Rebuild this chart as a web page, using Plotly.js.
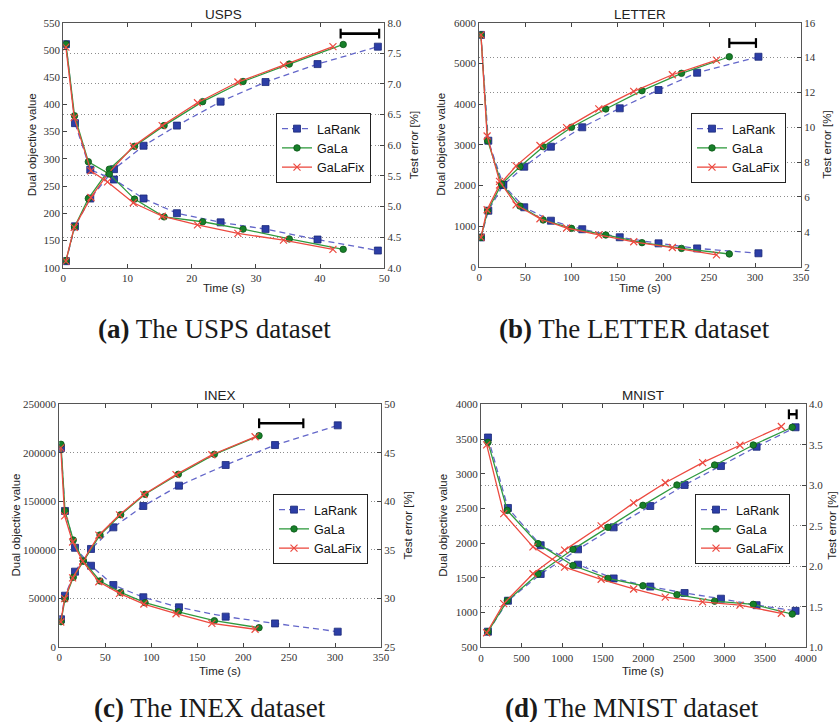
<!DOCTYPE html>
<html><head><meta charset="utf-8">
<script src="https://cdn.plot.ly/plotly-3.0.1.min.js"></script>
<style>html,body{margin:0;padding:0;background:#fff}#chart{width:839px;height:722px}</style>
</head><body><div id="chart"></div>
<script>
// ---------------- DATA ----------------
const seriesNames = ['LaRank', 'GaLa', 'GaLaFix'];
const panelTitles = ['USPS', 'LETTER', 'INEX', 'MNIST'];
const captionLetters = ['(a)', '(b)', '(c)', '(d)'];
const captionTexts = ['The USPS dataset', 'The LETTER dataset', 'The INEX dataset', 'The MNIST dataset'];

// USPS
const uspsLaRankT   = [0.42, 1.82, 4.2, 7.9, 12.5, 17.7, 24.5, 31.5, 39.6, 49.0];
const uspsLaRankDual= [112, 176, 227, 281, 324, 361, 405, 441, 474, 506];
const uspsLaRankErr = [7.65, 6.36, 5.60, 5.44, 5.13, 4.89, 4.74, 4.63, 4.46, 4.28];
const uspsGaLaT     = [0.42, 1.75, 3.9, 7.17, 11.1, 15.7, 21.7, 28.0, 35.2, 43.6];
const uspsGaLaDual  = [113, 175, 227, 281, 323, 361, 405, 442, 474, 510];
const uspsGaLaErr   = [7.65, 6.48, 5.73, 5.53, 5.12, 4.83, 4.75, 4.63, 4.47, 4.30];
const uspsFixT      = [0.4, 1.7, 4.3, 6.9, 10.9, 15.4, 20.9, 27.2, 34.3, 42.0];
const uspsFixDual   = [112, 174, 229, 272, 323, 361, 403, 441, 472, 506];
const uspsFixErr    = [7.60, 6.45, 5.58, 5.40, 5.06, 4.84, 4.70, 4.56, 4.45, 4.30];
const uspsBarT      = [43.2, 49.2];
const uspsBarY      = [530, 530];

// LETTER
const letterLaRankT   = [1.8, 9.8, 26, 48.9, 77.9, 112, 152.8, 195, 237, 303.7];
const letterLaRankDual= [720, 1377, 2009, 2459, 2951, 3428, 3895, 4345, 4770, 5163];
const letterLaRankErr = [15.3, 9.23, 6.69, 5.41, 4.64, 4.15, 3.69, 3.34, 3.05, 2.77];
const letterGaLaT     = [1.8, 9.1, 24.3, 44.2, 69.5, 100.3, 137.6, 177, 220, 272];
const letterGaLaDual  = [720, 1377, 2034, 2459, 2951, 3428, 3878, 4328, 4755, 5163];
const letterGaLaErr   = [15.3, 9.23, 6.74, 5.48, 4.68, 4.20, 3.82, 3.38, 3.05, 2.73];
const letterFixT      = [1.8, 8.5, 22, 40, 66, 95, 130, 168, 210, 258];
const letterFixDual   = [720, 1400, 2010, 2480, 2980, 3420, 3880, 4310, 4720, 5080];
const letterFixErr    = [15.3, 9.5, 6.9, 5.55, 4.75, 4.22, 3.82, 3.43, 3.10, 2.68];
const letterBarT      = [272, 301];
const letterBarY      = [5500, 5500];

// INEX
const inexLaRankT   = [1.85, 6.2, 17.1, 34.5, 58.8, 91.4, 130.2, 181, 234.7, 302.9];
const inexLaRankDual= [28300, 52600, 77400, 100800, 123100, 145100, 166100, 187400, 208000, 228300];
const inexLaRankErr = [45.5, 39.0, 35.2, 33.35, 31.36, 30.1, 29.06, 28.1, 27.4, 26.55];
const inexGaLaT     = [1.85, 6.2, 15.2, 26.1, 44.3, 66.8, 93.3, 129.5, 168.7, 217.3];
const inexGaLaDual  = [25800, 49200, 71600, 88400, 115200, 136100, 157200, 177800, 198400, 217600];
const inexGaLaErr   = [45.87, 39.0, 36.0, 33.84, 31.78, 30.6, 29.54, 28.6, 27.68, 26.96];
const inexFixT      = [1.6, 5.8, 14.5, 25.5, 43, 65.5, 92, 127, 166, 213];
const inexFixDual   = [25500, 49500, 71000, 88500, 115000, 136000, 157000, 177500, 198000, 216500];
const inexFixErr    = [45.5, 38.5, 35.8, 33.8, 31.7, 30.5, 29.4, 28.4, 27.4, 26.8];
const inexBarT      = [217.4, 265.5];
const inexBarY      = [230400, 230400];

// MNIST
const mnistLaRankT   = [86, 332, 735, 1195, 1634, 2085, 2508, 2956, 3395, 3875];
const mnistLaRankDual= [725, 1171, 1556, 1911, 2228, 2535, 2838, 3111, 3389, 3669];
const mnistLaRankErr = [3.59, 2.72, 2.26, 2.02, 1.85, 1.75, 1.67, 1.60, 1.52, 1.45];
const mnistGaLaT     = [86, 324, 702, 1133, 1564, 1995, 2414, 2878, 3354, 3834];
const mnistGaLaDual  = [725, 1171, 1556, 1911, 2228, 2545, 2838, 3126, 3414, 3669];
const mnistGaLaErr   = [3.53, 2.69, 2.28, 2.01, 1.85, 1.76, 1.65, 1.57, 1.53, 1.41];
const mnistFixT      = [70, 280, 640, 1030, 1480, 1880, 2270, 2730, 3190, 3700];
const mnistFixDual   = [710, 1130, 1560, 1900, 2250, 2580, 2870, 3160, 3410, 3680];
const mnistFixErr    = [3.50, 2.65, 2.24, 1.99, 1.84, 1.72, 1.62, 1.56, 1.52, 1.42];
const mnistBarT      = [3793, 3888];
const mnistBarY      = [3856, 3856];

// axis scales
const xRanges   = [[0, 50], [0, 350], [0, 350], [0, 4000]];
const xDticks   = [10, 50, 50, 500];
const dualRanges= [[100, 550], [0, 6000], [0, 250000], [500, 4000]];
const dualDticks= [50, 1000, 50000, 500];
const errRanges = [[4, 8], [2, 16], [25, 50], [1, 4]];
const errDticks = [0.5, 2, 5, 0.5];
const errFormats= ['.1f', 'd', 'd', '.1f'];

// ---------------- LAYOUT / DRAW ----------------
const W = 839, H = 722;
const px = x => x / W, py = y => 1 - y / H;

const data = [
  {T: [uspsLaRankT, uspsGaLaT, uspsFixT], D: [uspsLaRankDual, uspsGaLaDual, uspsFixDual], E: [uspsLaRankErr, uspsGaLaErr, uspsFixErr], BT: uspsBarT, BY: uspsBarY},
  {T: [letterLaRankT, letterGaLaT, letterFixT], D: [letterLaRankDual, letterGaLaDual, letterFixDual], E: [letterLaRankErr, letterGaLaErr, letterFixErr], BT: letterBarT, BY: letterBarY},
  {T: [inexLaRankT, inexGaLaT, inexFixT], D: [inexLaRankDual, inexGaLaDual, inexFixDual], E: [inexLaRankErr, inexGaLaErr, inexFixErr], BT: inexBarT, BY: inexBarY},
  {T: [mnistLaRankT, mnistGaLaT, mnistFixT], D: [mnistLaRankDual, mnistGaLaDual, mnistFixDual], E: [mnistLaRankErr, mnistGaLaErr, mnistFixErr], BT: mnistBarT, BY: mnistBarY}
];

// pixel boxes of plot areas [left, right, top, bottom]
const boxes = [
  [63.3, 384.3, 22.7, 267.7],
  [479.3, 801, 22.7, 266.7],
  [59.3, 381, 404.3, 646.7],
  [481, 805.7, 404.3, 647.3]
];
const legendPos = [[276, 113], [691, 113], [273, 494], [695, 494]];
const leftTitleX = [32, 441, 15, 443];
const rightTitleX = [414, 827, 407, 832];
const timeTitleY = [288, 288, 671, 671];
const captionPos = [[214, 329], [634, 329], [210, 708], [632, 708]];

const styles = [
  {line: {color: '#6366c9', width: 1.3, dash: '6px,4px'}, marker: {symbol: 'square', size: 7, color: '#2c3ea6', line: {color: '#1a2878', width: 0.8}}},
  {line: {color: '#2f9a3e', width: 1.3}, marker: {symbol: 'circle', size: 6.5, color: '#178029', line: {color: '#0c5518', width: 0.8}}},
  {line: {color: '#ec4a40', width: 1.3}, marker: {symbol: 'x-thin', size: 7, color: '#ec4a40', line: {color: '#ec4a40', width: 1.2}}}
];

const traces = [];
const layout = {
  width: W, height: H, margin: {l: 0, r: 0, t: 0, b: 0},
  paper_bgcolor: '#fff', plot_bgcolor: '#fff', hovermode: false,
  annotations: []
};

const tickFont = {family: 'Liberation Serif, serif', size: 11, color: '#333'};
const sans = 'Liberation Sans, Arial, sans-serif';

for (let i = 0; i < 4; i++) {
  const xs = i === 0 ? '' : String(i + 1);
  const yl = i === 0 ? '' : String(2 * i + 1);
  const yr = String(2 * i + 2);
  const xid = 'x' + xs, ylid = 'y' + yl, yrid = 'y' + yr;
  const legId = i === 0 ? 'legend' : 'legend' + (i + 1);
  const b = boxes[i];

  layout['xaxis' + xs] = {
    domain: [px(b[0]), px(b[1])], anchor: ylid, range: xRanges[i], dtick: xDticks[i], tick0: 0,
    ticks: 'inside', ticklen: 4, tickcolor: '#444', showline: true, linecolor: '#555', linewidth: 1,
    mirror: 'ticks', showgrid: false, zeroline: false, tickfont: tickFont, tickformat: 'd', fixedrange: true
  };
  layout['yaxis' + yl] = {
    domain: [py(b[3]), py(b[2])], anchor: xid, range: dualRanges[i], dtick: dualDticks[i], tick0: 0,
    ticks: 'inside', ticklen: 4, tickcolor: '#444', showline: true, linecolor: '#555', linewidth: 1,
    showgrid: false, zeroline: false, tickfont: tickFont, tickformat: 'd', fixedrange: true
  };
  layout['yaxis' + yr] = {
    overlaying: ylid, side: 'right', anchor: xid, range: errRanges[i], dtick: errDticks[i], tick0: errRanges[i][0],
    ticks: 'inside', ticklen: 4, tickcolor: '#444', showline: true, linecolor: '#555', linewidth: 1,
    showgrid: true, gridcolor: '#8c8c8c', gridwidth: 1, griddash: '1px,2.5px', zeroline: false,
    tickfont: tickFont, tickformat: errFormats[i], fixedrange: true
  };
  layout[legId] = {
    x: px(legendPos[i][0]), y: py(legendPos[i][1]), xanchor: 'left', yanchor: 'top',
    bgcolor: '#fff', bordercolor: '#222', borderwidth: 1,
    font: {family: sans, size: 12.5, color: '#111'}, itemwidth: 30, tracegroupgap: 0
  };

  const d = data[i];
  for (let s = 0; s < 3; s++) {
    traces.push({
      type: 'scatter', mode: 'lines+markers', x: d.T[s], y: d.D[s], xaxis: xid, yaxis: ylid,
      name: seriesNames[s], legend: legId, showlegend: true, line: styles[s].line, marker: styles[s].marker
    });
  }
  for (let s = 0; s < 3; s++) {
    traces.push({
      type: 'scatter', mode: 'lines+markers', x: d.T[s], y: d.E[s], xaxis: xid, yaxis: yrid,
      name: seriesNames[s], legend: legId, showlegend: false, line: styles[s].line, marker: styles[s].marker
    });
  }
  traces.push({
    type: 'scatter', mode: 'lines+markers', x: d.BT, y: d.BY, xaxis: xid, yaxis: ylid, showlegend: false,
    line: {color: '#000', width: 2.6}, marker: {symbol: 'line-ns', size: 7, color: '#000', line: {color: '#000', width: 2.2}},
    cliponaxis: false
  });

  const cx = (b[0] + b[1]) / 2, cy = (b[2] + b[3]) / 2;
  layout.annotations.push(
    {text: panelTitles[i], xref: 'paper', yref: 'paper', x: px(cx), y: py(b[2] - 8.5), xanchor: 'center', yanchor: 'middle',
     showarrow: false, font: {family: sans, size: 13.5, color: '#222'}},
    {text: 'Dual objective value', xref: 'paper', yref: 'paper', x: px(leftTitleX[i]), y: py(cy), xanchor: 'center', yanchor: 'middle',
     textangle: -90, showarrow: false, font: {family: sans, size: 11.5, color: '#222'}},
    {text: 'Test error [%]', xref: 'paper', yref: 'paper', x: px(rightTitleX[i]), y: py(cy), xanchor: 'center', yanchor: 'middle',
     textangle: -90, showarrow: false, font: {family: sans, size: 11.5, color: '#222'}},
    {text: 'Time (s)', xref: 'paper', yref: 'paper', x: px(cx), y: py(timeTitleY[i]), xanchor: 'center', yanchor: 'middle',
     showarrow: false, font: {family: sans, size: 11.5, color: '#222'}},
    {text: '<b>' + captionLetters[i] + '</b> ' + captionTexts[i], xref: 'paper', yref: 'paper',
     x: px(captionPos[i][0]), y: py(captionPos[i][1]), xanchor: 'center', yanchor: 'middle',
     showarrow: false, font: {family: 'Liberation Serif, serif', size: 27, color: '#1a1a1a'}}
  );
}

Plotly.newPlot('chart', traces, layout, {staticPlot: true, displayModeBar: false});
</script>
</body></html>
